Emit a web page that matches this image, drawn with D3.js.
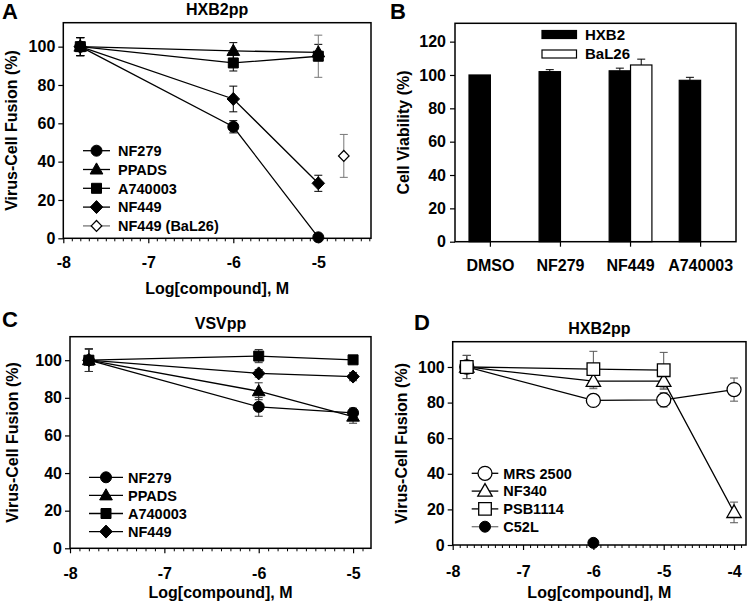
<!DOCTYPE html>
<html><head><meta charset="utf-8">
<script src="https://cdn.jsdelivr.net/npm/d3@7"></script>
<style>body{margin:0;background:#fff} svg{display:block}</style>
</head><body><svg id="c" width="750" height="606"></svg>
<script>
// ---------- Panel A: HXB2pp ----------
const doseA = [-7.8, -6, -5];
const aNF279 = [100, 58.2, 0.5],   aNF279Err = [4.7, 3.2, 0];
const aPPADS = [100, 97.8, 97],    aPPADSErr = [4.7, 4.3, 4.2];
const aA740003 = [100, 91.5, 95],  aA740003Err = [4.7, 4.2, 11];
const aNF449 = [100, 72.7, 28.7],  aNF449Err = [4.7, 6.7, 4.2];
const doseBaL = [-4.7];
const aNF449BaL = [43],            aNF449BaLErr = [11.2];

// ---------- Panel B: Cell viability ----------
const cellCategories = ["DMSO", "NF279", "NF449", "A740003"];
const viabilitySeries = ["HXB2", "BaL26"];
const viabilityHXB2 = [100, 102, 102.5, 96.8];
const viabilityHXB2Err = [0, 1.2, 1.6, 1.8];
const viabilityBaL26 = [null, null, 106, null];
const viabilityBaL26Err = [null, null, 3.5, null];

// ---------- Panel C: VSVpp ----------
const doseC = [-7.8, -6, -5];
const cNF279 = [100, 75.2, 72],      cNF279Err = [6, 5, 2.5];
const cPPADS = [100, 83.5, 70],      cPPADSErr = [6, 4.5, 3.5];
const cA740003 = [100, 102.2, 100.2], cA740003Err = [6, 3.5, 1];
const cNF449 = [100, 93, 91.3],      cNF449Err = [6, 2, 2.2];

// ---------- Panel D: HXB2pp ----------
const doseD = [-7.8, -6, -5, -4];
const dMRS2500 = [100, 81.2, 81.5, 87.3], dMRS2500Err = [6.5, 2.5, 4, 6.5];
const dNF340 = [100, 92, 92, 18.3],       dNF340Err = [6.5, 4.2, 4.5, 5.8];
const dosePSB = [-7.8, -6, -5];
const dPSB1114 = [100, 98.8, 98.2],       dPSB1114Err = [6.5, 10, 10];
const doseC52L = [-6];
const dC52L = [1.2];

// ---------- tick labels ----------
const fusionTicks = [0, 20, 40, 60, 80, 100];
const viabilityTicks = [0, 20, 40, 60, 80, 100, 120];
const doseTicks3 = [-8, -7, -6, -5];
const doseTicks4 = [-8, -7, -6, -5, -4];

const FONT = '"Liberation Sans", Arial, Helvetica, sans-serif';
const svg = d3.select('#c');

function txt(g, x, y, s, size, anchor) {
  return g.append('text').attr('x', x).attr('y', y).text(s)
    .attr('font-family', FONT).attr('font-weight', 'bold')
    .attr('font-size', size).attr('text-anchor', anchor || 'start').attr('fill', '#000');
}

function shapePath(type, s) {
  switch (type) {
    case 'circle': return d3.symbol(d3.symbolCircle, Math.PI * s * s)();
    case 'square': return `M${-s},${-s}H${s}V${s}H${-s}Z`;
    case 'triangle': return `M0,${-s * 1.25}L${s * 1.2},${s * 0.85}L${-s * 1.2},${s * 0.85}Z`;
    case 'diamond': return `M0,${-s * 1.3}L${s * 1.25},0L0,${s * 1.3}L${-s * 1.25},0Z`;
  }
}
function drawMarker(g, st, cx, cy) {
  g.append('path').attr('d', shapePath(st.type, st.size))
    .attr('transform', `translate(${cx},${cy})`)
    .attr('fill', st.open ? '#fff' : '#000')
    .attr('stroke', '#000').attr('stroke-width', st.open ? 1.3 : 1);
}
function styleAxis(sel, size) {
  sel.attr('font-family', FONT).attr('font-weight', 'bold').attr('font-size', size);
  sel.select('.domain').remove();
  sel.selectAll('.tick line').attr('stroke', '#000').attr('stroke-width', 1.2);
  sel.selectAll('.tick text').attr('fill', '#000');
}

function dosePanel(p) {
  const g = svg.append('g');
  const x = d3.scaleLinear().domain(p.xDomain).range([p.left, p.right]);
  const y = d3.scaleLinear().domain(p.yDomain).range([p.bottom, p.top]);

  // minor x ticks every 0.1
  const minor = d3.range(Math.ceil(p.xDomain[0] * 10), Math.floor(p.xDomain[1] * 10) + 1)
    .filter(v => v % 10 !== 0).map(v => v / 10);
  const gm = g.append('g').attr('transform', `translate(0,${p.bottom})`)
    .call(d3.axisBottom(x).tickValues(minor).tickSize(3).tickFormat(''));
  styleAxis(gm, 16);
  gm.selectAll('.tick line').attr('stroke-width', 1);
  const gx = g.append('g').attr('transform', `translate(0,${p.bottom})`)
    .call(d3.axisBottom(x).tickValues(p.xTicks).tickSize(5).tickPadding(p.xPad).tickFormat(d => String(d)));
  styleAxis(gx, 16);
  const gy = g.append('g').attr('transform', `translate(${p.left},0)`)
    .call(d3.axisLeft(y).tickValues(fusionTicks).tickSize(5).tickPadding(3));
  styleAxis(gy, 16);

  // error bars
  p.series.forEach(s => {
    s.xs.forEach((xv, i) => {
      const v = s.ys[i], e = s.errs ? s.errs[i] : 0;
      if (v == null || !e) return;
      const col = Array.isArray(s.errColor) ? s.errColor[i] : (s.errColor || '#000');
      const X = x(xv), y1 = y(v - e), y2 = y(v + e);
      g.append('line').attr('x1', X).attr('x2', X).attr('y1', y1).attr('y2', y2).attr('stroke', col).attr('stroke-width', 1);
      [y1, y2].forEach(yy => g.append('line').attr('x1', X - 4).attr('x2', X + 4).attr('y1', yy).attr('y2', yy).attr('stroke', col).attr('stroke-width', 1));
    });
  });
  // lines
  const line = d3.line().defined(d => d[1] != null).x(d => x(d[0])).y(d => y(d[1]));
  p.series.forEach(s => {
    if (!s.line) return;
    g.append('path').attr('d', line(s.xs.map((xv, i) => [xv, s.ys[i]])))
      .attr('fill', 'none').attr('stroke', '#000').attr('stroke-width', 1.3);
  });
  // markers
  p.series.forEach(s => {
    s.xs.forEach((xv, i) => { if (s.ys[i] != null) drawMarker(g, s, x(xv), y(s.ys[i])); });
  });

  // frame
  g.append('rect').attr('x', p.left).attr('y', p.top).attr('width', p.right - p.left).attr('height', p.bottom - p.top)
    .attr('fill', 'none').attr('stroke', '#000').attr('stroke-width', 1.5);

  // legend
  p.series.forEach((s, i) => {
    const ly = p.leg.y + i * p.leg.dy;
    g.append('line').attr('x1', p.leg.x1).attr('x2', p.leg.x2).attr('y1', ly).attr('y2', ly)
      .attr('stroke', s.line ? '#000' : '#777').attr('stroke-width', 1.3);
    drawMarker(g, s, (p.leg.x1 + p.leg.x2) / 2, ly);
    txt(g, p.leg.tx, ly + 5.2, s.label, 14.5);
  });

  // titles
  txt(g, (p.left + p.right) / 2, p.top - 8, p.title, 16, 'middle');
  txt(g, (p.left + p.right) / 2, p.xTitleY, 'Log[compound], M', 16, 'middle');
  txt(g, 0, 0, 'Virus-Cell Fusion (%)', 16, 'middle')
    .attr('transform', `translate(${p.yTitleX},${(p.top + p.bottom) / 2}) rotate(-90)`).attr('dy', '0.36em');
  txt(g, p.letter.x, p.letter.y, p.letter.s, 22);
}

// Panel A
dosePanel({
  left: 63.3, right: 371, top: 22.7, bottom: 238.3,
  xDomain: [-8, -4.38], yDomain: [0, 112.5], xTicks: doseTicks3, xPad: 13,
  title: 'HXB2pp', xTitleY: 294, yTitleX: 11, letter: { s: 'A', x: 2, y: 19 },
  leg: { x1: 83, x2: 110, y: 150.7, dy: 18.8, tx: 118 },
  series: [
    { label: 'NF279', xs: doseA, ys: aNF279, errs: aNF279Err, type: 'circle', size: 5.5, line: true },
    { label: 'PPADS', xs: doseA, ys: aPPADS, errs: aPPADSErr, type: 'triangle', size: 5.3, line: true },
    { label: 'A740003', xs: doseA, ys: aA740003, errs: aA740003Err, type: 'square', size: 5, line: true, errColor: ['#000', '#000', '#777'] },
    { label: 'NF449', xs: doseA, ys: aNF449, errs: aNF449Err, type: 'diamond', size: 5, line: true },
    { label: 'NF449 (BaL26)', xs: doseBaL, ys: aNF449BaL, errs: aNF449BaLErr, type: 'diamond', size: 4.2, open: true, line: false, errColor: '#777' }
  ]
});

// Panel C
dosePanel({
  left: 70, right: 371, top: 336.7, bottom: 548.3,
  xDomain: [-8, -4.81], yDomain: [0, 112.5], xTicks: doseTicks3, xPad: 14,
  title: 'VSVpp', xTitleY: 598, yTitleX: 12, letter: { s: 'C', x: 2, y: 327 },
  leg: { x1: 89, x2: 123, y: 477.3, dy: 18.1, tx: 128 },
  series: [
    { label: 'NF279', xs: doseC, ys: cNF279, errs: cNF279Err, type: 'circle', size: 5.5, line: true, errColor: '#333' },
    { label: 'PPADS', xs: doseC, ys: cPPADS, errs: cPPADSErr, type: 'triangle', size: 5.3, line: true, errColor: '#333' },
    { label: 'A740003', xs: doseC, ys: cA740003, errs: cA740003Err, type: 'square', size: 5, line: true, errColor: '#333' },
    { label: 'NF449', xs: doseC, ys: cNF449, errs: cNF449Err, type: 'diamond', size: 5, line: true, errColor: '#333' }
  ]
});

// Panel D
dosePanel({
  left: 452.7, right: 746, top: 341.7, bottom: 545,
  xDomain: [-8, -3.83], yDomain: [0, 114.2], xTicks: doseTicks4, xPad: 16,
  title: 'HXB2pp', xTitleY: 598, yTitleX: 401, letter: { s: 'D', x: 414, y: 330 },
  leg: { x1: 471.7, x2: 498.3, y: 473.3, dy: 17.8, tx: 503.3 },
  series: [
    { label: 'MRS 2500', xs: doseD, ys: dMRS2500, errs: dMRS2500Err, type: 'circle', size: 7, open: true, line: true, errColor: '#555' },
    { label: 'NF340', xs: doseD, ys: dNF340, errs: dNF340Err, type: 'triangle', size: 6, open: true, line: true, errColor: '#555' },
    { label: 'PSB1114', xs: dosePSB, ys: dPSB1114, errs: dPSB1114Err, type: 'square', size: 6.3, open: true, line: true, errColor: '#555' },
    { label: 'C52L', xs: doseC52L, ys: dC52L, errs: null, type: 'circle', size: 5.5, line: false }
  ]
});

// Panel B: bar chart
(function () {
  const g = svg.append('g');
  const left = 455, right = 736, top = 23.3, bottom = 241.7;
  const x0 = d3.scaleBand().domain(cellCategories).range([left, right]).paddingInner(0.39).paddingOuter(0.2);
  const x1 = d3.scaleBand().domain(viabilitySeries).range([0, x0.bandwidth()]);
  const y = d3.scaleLinear().domain([0, 131]).range([bottom, top]);

  const gy = g.append('g').attr('transform', `translate(${left},0)`)
    .call(d3.axisLeft(y).tickValues(viabilityTicks).tickSize(5).tickPadding(4));
  styleAxis(gy, 16);
  const gx = g.append('g').attr('transform', `translate(0,${bottom})`)
    .call(d3.axisBottom(x0).tickSize(5).tickPadding(13));
  styleAxis(gx, 16);

  const data = [
    { key: 'HXB2', vals: viabilityHXB2, errs: viabilityHXB2Err, fill: '#000' },
    { key: 'BaL26', vals: viabilityBaL26, errs: viabilityBaL26Err, fill: '#fff' }
  ];
  data.forEach(s => {
    cellCategories.forEach((c, i) => {
      const v = s.vals[i];
      if (v == null) return;
      const bx = x0(c) + x1(s.key), bw = x1.bandwidth();
      const e = s.errs[i];
      if (e) {
        const cx = bx + bw / 2;
        g.append('line').attr('x1', cx).attr('x2', cx).attr('y1', y(v)).attr('y2', y(v + e)).attr('stroke', '#000').attr('stroke-width', 1);
        g.append('line').attr('x1', cx - 4).attr('x2', cx + 4).attr('y1', y(v + e)).attr('y2', y(v + e)).attr('stroke', '#000').attr('stroke-width', 1);
      }
      g.append('rect').attr('x', bx).attr('y', y(v)).attr('width', bw).attr('height', y(0) - y(v))
        .attr('fill', s.fill).attr('stroke', '#000').attr('stroke-width', 1.2);
    });
  });

  g.append('rect').attr('x', left).attr('y', top).attr('width', right - left).attr('height', bottom - top)
    .attr('fill', 'none').attr('stroke', '#000').attr('stroke-width', 1.5);

  // legend
  data.forEach((s, i) => {
    const ly = 34.5 + i * 19.5;
    g.append('rect').attr('x', 542).attr('y', ly - 4).attr('width', 34.5).attr('height', 8)
      .attr('fill', s.fill).attr('stroke', '#000').attr('stroke-width', 1.2);
    txt(g, 585, ly + 5.4, s.key, 15);
  });

  txt(g, 0, 0, 'Cell Viability (%)', 16, 'middle')
    .attr('transform', `translate(403,${(top + bottom) / 2}) rotate(-90)`).attr('dy', '0.36em');
  txt(g, 390, 19, 'B', 22);
})();
</script>
</body></html>
